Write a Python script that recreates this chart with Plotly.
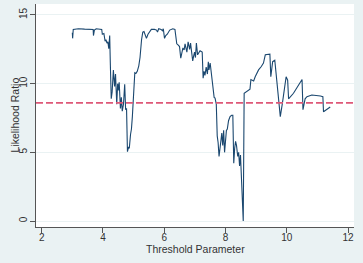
import plotly.graph_objects as go

threshold = [3.00, 3.01, 3.03, 3.20, 3.40, 3.55, 3.68, 3.69, 3.72, 3.78, 3.90, 3.96, 3.98, 4.03, 4.07, 4.10, 4.13, 4.16, 4.19, 4.22,
             4.24, 4.27, 4.30, 4.34, 4.38, 4.41, 4.45, 4.48, 4.50, 4.53, 4.57, 4.60, 4.63, 4.67, 4.71, 4.74, 4.77, 4.80, 4.83, 4.86,
             4.90, 4.93, 4.96, 5.00, 5.04, 5.08, 5.12, 5.17, 5.21, 5.26, 5.30, 5.34, 5.38, 5.42, 5.47, 5.52, 5.58, 5.68, 5.75, 5.78,
             5.82, 5.90, 5.94, 5.97, 6.01, 6.05, 6.10, 6.18, 6.28, 6.35, 6.38, 6.41, 6.46, 6.50, 6.54, 6.58, 6.61, 6.65, 6.68, 6.72,
             6.74, 6.78, 6.80, 6.83, 6.86, 6.90, 6.93, 6.96, 6.99, 7.02, 7.05, 7.09, 7.13, 7.17, 7.24, 7.27, 7.30, 7.33, 7.37, 7.41,
             7.44, 7.46, 7.50, 7.54, 7.57, 7.60, 7.63, 7.66, 7.70, 7.73, 7.76, 7.79, 7.82, 7.85, 7.88, 7.91, 7.94, 7.97, 8.00, 8.03,
             8.06, 8.10, 8.15, 8.20, 8.24, 8.27, 8.30, 8.33, 8.36, 8.40, 8.43, 8.46, 8.49, 8.52, 8.55, 8.58, 8.61, 8.70, 8.80, 8.83,
             8.92, 8.97, 9.08, 9.17, 9.24, 9.30, 9.40, 9.45, 9.48, 9.54, 9.61, 9.70, 9.79, 9.86, 9.98, 10.03, 10.06, 10.22, 10.38, 10.50,
             10.53, 10.60, 10.66, 10.82, 11.10, 11.18, 11.20, 11.30, 11.42]

likelihood_ratio = [13.7, 13.3, 13.95, 14.0, 13.97, 13.95, 13.95, 13.5, 13.9, 14.0, 14.0, 13.95, 13.6, 13.65, 13.1, 13.2, 12.95, 13.05, 12.55, 13.5,
                    11.5, 8.9, 9.4, 11.0, 9.8, 10.7, 8.5, 10.0, 9.5, 10.1, 8.2, 9.0, 8.0, 8.5, 9.95, 8.1, 8.2, 5.05, 5.35, 5.3,
                    6.3, 6.7, 7.6, 9.5, 10.8, 10.75, 10.9, 11.3, 11.9, 13.2, 13.75, 13.8, 13.5, 13.3, 13.6, 13.8, 13.95, 13.95, 13.9, 13.75,
                    14.0, 13.95, 13.85, 14.0, 13.3, 13.5, 13.6, 13.9, 14.0, 13.95, 13.1, 12.9, 12.8, 12.7, 11.85, 12.5, 12.6, 12.45, 12.9, 12.5,
                    12.3, 13.05, 12.8, 12.5, 12.95, 12.4, 11.65, 12.0, 12.3, 11.9, 12.95, 12.1, 12.3, 12.4, 12.3, 10.4, 10.9, 10.6, 11.2, 10.7,
                    11.6, 11.0, 11.5, 10.7, 10.2, 9.6, 9.0, 8.95, 8.5, 6.2, 5.7, 4.7, 5.2, 6.0, 6.4, 5.5, 6.6, 5.0, 5.6, 6.6,
                    6.7, 7.3, 7.6, 7.7, 7.7, 4.2, 5.3, 5.8, 5.5, 4.7, 5.0, 4.0, 4.8, 2.9, 2.5, 0.0, 9.3, 9.45, 9.6, 10.3,
                    10.2, 10.5, 11.0, 11.25, 11.5, 12.1, 12.15, 12.15, 10.5, 11.6, 11.7, 9.7, 7.6, 8.6, 10.5, 10.25, 8.9, 9.3, 9.85, 10.3,
                    8.1, 8.9, 9.05, 9.17, 9.1, 9.05, 7.95, 8.1, 8.3]

critical_value = 8.6
x_ticks = [2, 4, 6, 8, 10, 12]
y_ticks = [0, 5, 10, 15]
x_title = "Threshold Parameter"
y_title = "Likelihood Ratio"

BG = "#EAF2F3"
AXIS = "#555555"
TXT = "#333333"
FONT = "Liberation Sans, Arial, sans-serif"

fig = go.Figure()
fig.add_trace(go.Scatter(x=threshold, y=likelihood_ratio, mode="lines",
                         line=dict(color="#1a476f", width=1.1), showlegend=False,
                         hoverinfo="skip"))
fig.add_hline(y=critical_value, line=dict(color="#DE5878", width=1.6, dash="7px,3px"))

fig.add_annotation(text=x_title, xref="paper", yref="paper", x=0.5, y=0,
                   xanchor="center", yanchor="middle", yshift=-22, showarrow=False,
                   font=dict(size=10.5, color=TXT))
fig.add_annotation(text=y_title, xref="paper", yref="paper", x=0, y=0.5,
                   xanchor="center", yanchor="middle", xshift=-22, textangle=-90,
                   showarrow=False, font=dict(size=10.5, color=TXT))

fig.update_layout(
    width=363, height=263,
    margin=dict(l=36, r=9, t=4, b=36),
    paper_bgcolor=BG, plot_bgcolor="white",
    font=dict(family=FONT, size=10, color=TXT),
    xaxis=dict(range=[1.814, 12.196], tickvals=x_ticks, ticks="outside", ticklen=5,
               tickcolor=AXIS, showline=True, linecolor=AXIS, linewidth=1,
               showgrid=False, zeroline=False, automargin=False,
               ticklabelstandoff=-4,
               tickfont=dict(size=10, color=TXT)),
    yaxis=dict(range=[-0.437, 15.8], tickvals=y_ticks, ticks="outside", ticklen=5,
               tickcolor=AXIS, showline=True, linecolor=AXIS, linewidth=1,
               showgrid=True, gridcolor=BG, gridwidth=1.2, zeroline=False,
               tickangle=-90, automargin=False, ticklabelstandoff=-1,
               tickfont=dict(size=10, color=TXT)),
)

fig.write_html("out.html", config={"displayModeBar": False},
               post_script="document.body.style.margin='0';")
